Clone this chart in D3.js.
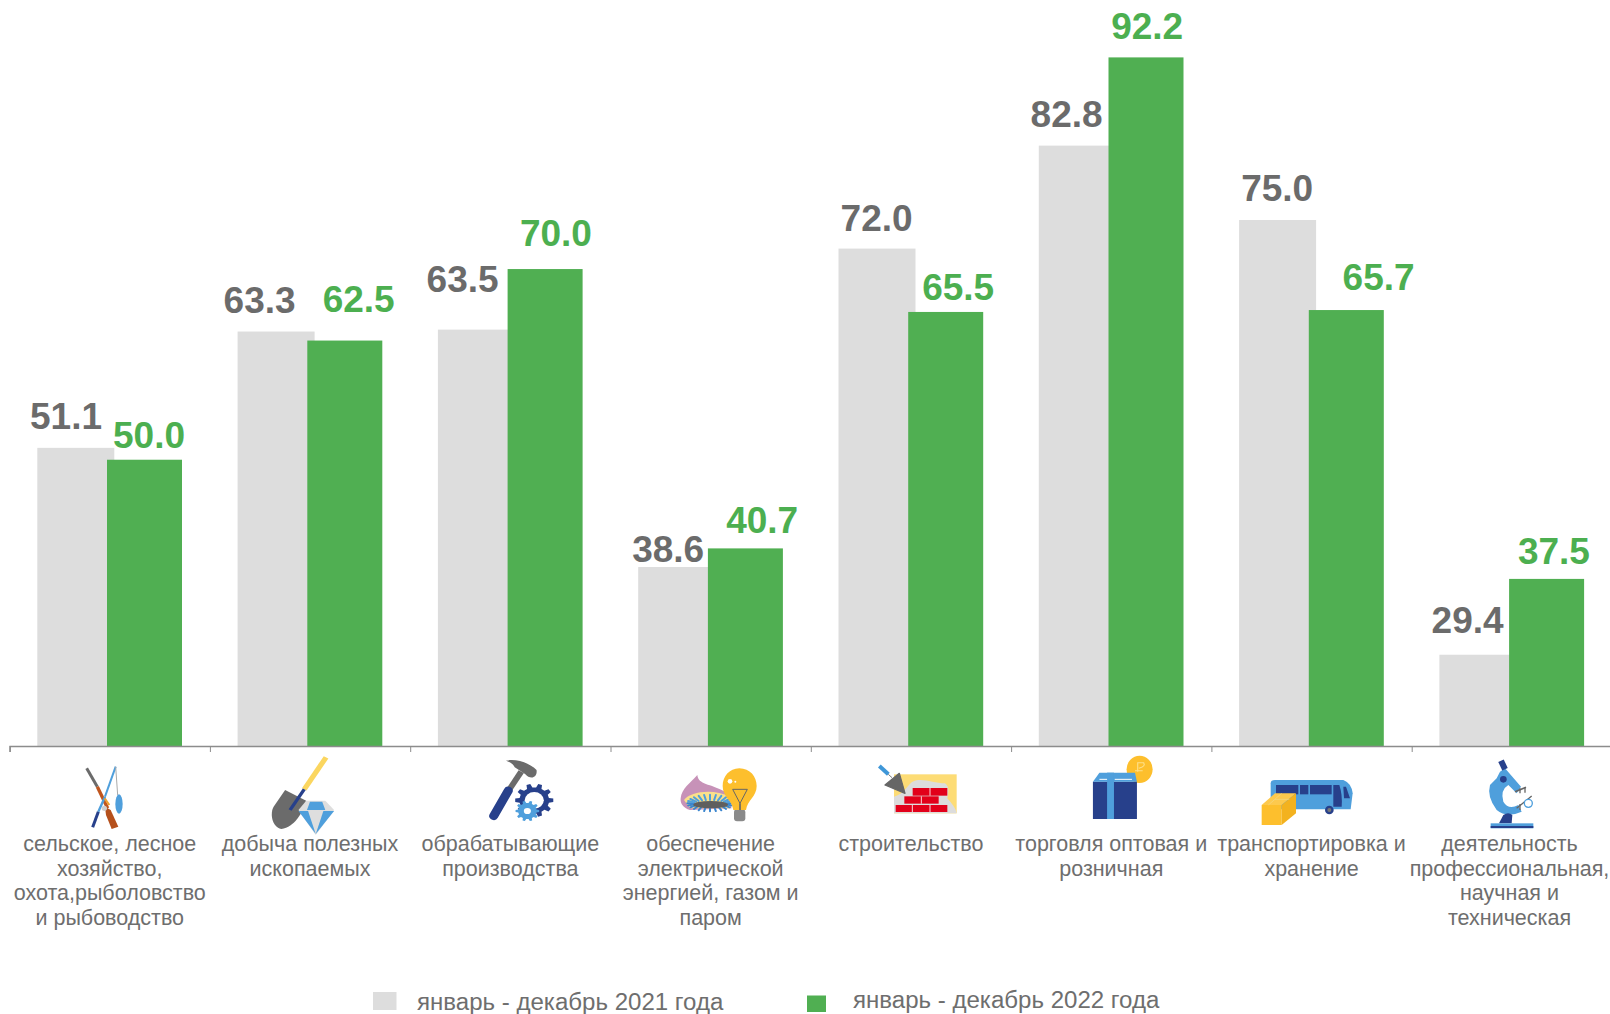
<!DOCTYPE html>
<html lang="ru"><head><meta charset="utf-8">
<script src="https://cdnjs.cloudflare.com/ajax/libs/d3/7.8.5/d3.min.js"></script>
<style>html,body{margin:0;background:#fff}svg{display:block}text{font-family:"Liberation Sans",Arial,sans-serif}</style>
</head><body><svg id="c" width="1610" height="1014"></svg>
<script>
const categories=[
 ["сельское, лесное","хозяйство,","охота,рыболовство","и рыбоводство"],
 ["добыча полезных","ископаемых"],
 ["обрабатывающие","производства"],
 ["обеспечение","электрической","энергией, газом и","паром"],
 ["строительство"],
 ["торговля оптовая и","розничная"],
 ["транспортировка и","хранение"],
 ["деятельность","профессиональная,","научная и","техническая"]];
const values2021=[51.1,63.3,63.5,38.6,72.0,82.8,75.0,29.4];
const values2022=[50.0,62.5,70.0,40.7,65.5,92.2,65.7,37.5];
const seriesNames=["январь - декабрь 2021 года","январь - декабрь 2022 года"];
// label placement relative to the bar centre and bar top
const dx2021=[-9.8,-16.5,-13.8,-8.5,-0.4,-10.7,-0.4,-10.3];
const gap2021=[18.7,18.4,37.7,5,18,19,19,21.3];
const dx2022=[4.5,13.9,10.8,16.8,12.5,1.2,32.3,7.3];
const gap2022=[11.3,28.4,23,15,12.4,18.1,20.4,15.4];

const GREY="#dddddd",GREEN="#50af52",NAVY="#27408b",BLUE="#4f9fdc",AMBER="#fdbf2d",STEEL="#6b6b6b";
const svg=d3.select("#c");
const idx=d3.range(categories.length);
const left=9.6,step=200.3;
const x=d3.scaleBand().domain(idx).range([left,left+step*idx.length]).padding(0);
const y=d3.scaleLinear().domain([19.9,92.2]).range([746,56.7]);
const tickX=d3.scaleLinear().domain([0,8]).range([left,left+step*8]);

const series=[
 {name:seriesNames[0],vals:values2021,off:27.7,w:77,fill:GREY,text:"#6b6b6b",dx:dx2021,gap:gap2021,adj:-0.7},
 {name:seriesNames[1],vals:values2022,off:97.4,w:75,fill:GREEN,text:"#4caf50",dx:dx2022,gap:gap2022,adj:0.7}];

series.forEach(s=>{
 svg.append("g").selectAll("rect").data(idx).join("rect")
  .attr("x",i=>x(i)+s.off).attr("width",s.w)
  .attr("y",i=>y(s.vals[i])+s.adj).attr("height",i=>y.range()[0]-y(s.vals[i])-s.adj).attr("fill",s.fill);
});
series.forEach(s=>{
 svg.append("g").selectAll("text").data(idx).join("text")
  .attr("x",i=>x(i)+s.off+s.w/2+s.dx[i]).attr("y",i=>y(s.vals[i])+s.adj-s.gap[i])
  .attr("text-anchor","middle").attr("font-size",37).attr("font-weight",700).attr("fill",s.text)
  .text(i=>s.vals[i].toFixed(1));
});

const ax=svg.append("g").attr("transform","translate(0,746)")
 .call(d3.axisBottom(tickX).tickValues(d3.range(0,9)).tickSizeOuter(0).tickSize(6).tickFormat(""));
ax.select(".domain").attr("stroke","#8c8c8c").attr("stroke-width",1.5);
ax.selectAll(".tick line").attr("stroke","#8c8c8c");

const lab=svg.append("g").selectAll("text").data(idx).join("text")
 .attr("text-anchor","middle").attr("font-size",21.5).attr("fill","#6e6e6e");
lab.each(function(i){
 d3.select(this).selectAll("tspan").data(categories[i]).join("tspan")
  .attr("x",Math.min(x(i)+x.bandwidth()/2,1509.5)).attr("y",(d,k)=>851+k*24.6).text(d=>d);
});

// legend
[[373,992,23.5,18,417,1010],[807,995.5,19,16.5,853,1008]].forEach((p,k)=>{
 svg.append("rect").attr("x",p[0]).attr("y",p[1]).attr("width",p[2]).attr("height",p[3]).attr("fill",series[k].fill);
 svg.append("text").attr("x",p[4]).attr("y",p[5]).attr("font-size",24.05).attr("fill","#6e6e6e").text(series[k].name);
});

// pictograms (decorative)
function gear(g,cx,cy,r,n,fill,hole){
 const pts=[];
 d3.range(n).forEach(k=>{const a=k/n*2*Math.PI,d=Math.PI/n;
  [[-.55,r*.78],[-.3,r],[.3,r],[.55,r*.78]].forEach(t=>{const b=a+t[0]*d*1.1;pts.push([cx+t[1]*Math.cos(b),cy+t[1]*Math.sin(b)]);});});
 g.append("path").attr("d",d3.line()(pts)+"Z").attr("fill",fill);
 g.append("circle").attr("cx",cx).attr("cy",cy).attr("r",r*hole).attr("fill","#fff");
}
const P=(g,d,f)=>g.append("path").attr("d",d).attr("fill",f);
const L=(g,a,b,c,d,col,w)=>g.append("line").attr("x1",a).attr("y1",b).attr("x2",c).attr("y2",d).attr("stroke",col).attr("stroke-width",w);
const E=(g,cx,cy,rx,ry,f)=>g.append("ellipse").attr("cx",cx).attr("cy",cy).attr("rx",rx).attr("ry",ry).attr("fill",f);
const R=(g,a,b,w,h,f)=>g.append("rect").attr("x",a).attr("y",b).attr("width",w).attr("height",h).attr("fill",f);
const G=(ox,sx)=>svg.append("g").attr("transform",`translate(${ox},730) scale(${sx},${1/3})`);
const C=(ox,oy)=>svg.append("g").attr("transform",`translate(${ox},${oy}) scale(${1/3})`);

let g=C(70,755);
L(g,50,40,82,95,STEEL,9);L(g,82,95,113,160,"#c0561f",10);
P(g,"M105,155L122,165L145,215L125,222L108,180Z","#b5501c");
L(g,137,35,105,125,BLUE,6);L(g,105,125,85,170,BLUE,7);L(g,85,170,68,217,NAVY,9);
L(g,104,130,118,150,"#f0a030",6);E(g,103,160,8,8,"#cfcfcf");
L(g,137,35,143,120,"#aaa",3);E(g,147,147,11,29,BLUE);

g=G(0,1/2.613);
L(g,852,82,795,178,"#fbd65f",14);
P(g,"M745,180L800,212C790,250 770,290 735,297C710,290 705,250 715,230Z",STEEL);
L(g,795,178,758,240,NAVY,9);
P(g,"M780,240L800,212L850,212L873,240L825,315Z","#dedede");
P(g,"M810,215L842,215L850,240L802,240Z",BLUE);P(g,"M780,243L805,243L825,312Z",BLUE);P(g,"M845,243L873,243L825,312Z",BLUE);

g=G(0,1/2.613);
P(g,"M1322,92C1350,85 1385,100 1402,120C1405,145 1385,150 1372,132L1345,112C1340,100 1330,95 1322,92Z",STEEL);
L(g,1362,125,1330,180,STEEL,16);
g.append("line").attr("x1",1328).attr("y1",182).attr("x2",1290).attr("y2",258).attr("stroke",NAVY).attr("stroke-width",24).attr("stroke-linecap","round");
gear(g,1396,211,50,10,NAVY,.5);gear(g,1378,243,31,10,BLUE,.3);

g=C(670,760);
P(g,"M32,115C35,85 60,70 82,45C85,75 120,70 165,95L185,145L60,150C40,145 30,130 32,115Z","#c792b8");
P(g,"M42,120C60,95 130,85 180,110L180,145L60,145Z","#fbe08a");
d3.range(0,24).forEach(k=>{const a=k/24*2*Math.PI,c=Math.cos(a),s=Math.sin(a);
 L(g,120+48*c,130+10*s,120+68*c,130+(s<0?26:24)*s,s<0?"#4f9fdc":"#3b86cf",6).attr("stroke-linecap","round");});
E(g,122,134,52,11,"#5f5f5f");
g.append("rect").attr("x",192).attr("y",148).attr("width",34).attr("height",36).attr("rx",9).attr("fill","#8a8a8a");
P(g,"M208,25C240,25 260,50 260,78C260,110 232,120 228,150L190,150C186,120 158,110 158,78C158,50 178,25 208,25Z",AMBER);
P(g,"M188,88L232,88L210,130Z","none").attr("stroke","#666").attr("stroke-width",3);L(g,210,130,210,150,"#666",5);
E(g,180,64,7,7,"#fff");E(g,196,65,3,3,"#fff");

g=C(870,755);
R(g,72,58,188,117,"#fddc75");
P(g,"M72,175L72,125C100,118 110,95 125,82C150,65 190,85 225,85C240,95 235,115 232,130C245,145 258,160 260,175Z","#dcdcdc");
R(g,128,99,104,23,"#e2001a");R(g,103,124,103,22,"#e2001a");R(g,77,150,155,21,"#e2001a");
[[180,99,122],[154,124,146],[127,150,171],[180,150,171]].forEach(s=>L(g,s[0],s[1],s[0],s[2],"#fff",2.5));
L(g,28,33,55,58,"#3f97d8",12);L(g,55,58,66,68,"#777",3);
P(g,"M88,55L45,90L105,115Z","#666").attr("stroke","#666").attr("stroke-width",4).attr("stroke-linejoin","round");

g=G(600,1/2.613);
E(g,1410,118,34,41,AMBER);
P(g,"M1405,125L1405,98L1420,98Q1428,108 1408,115M1398,122L1418,122","none").attr("stroke","#fde08a").attr("stroke-width",3);
R(g,1288,155,115,112,NAVY);P(g,"M1305,128L1398,128L1403,155L1288,155Z",BLUE);
R(g,1325,128,18,139,BLUE);L(g,1305,148,1325,148,"#fff",3);L(g,1345,148,1390,148,"#fff",3);

g=G(1200,1/3);
P(g,"M212,160Q212,150 225,150L430,150Q455,160 458,190L452,238L212,238Z",BLUE);
R(g,228,165,67,28,NAVY);R(g,300,165,25,28,NAVY);R(g,330,165,65,28,NAVY);
P(g,"M400,165L418,165Q428,195 425,230L400,230Z",NAVY);P(g,"M430,170L438,170L450,205L432,205Z",NAVY);
E(g,388,240,13,13,NAVY);E(g,388,240,6,6,"#777");
P(g,"M185,225L225,190L288,190L245,225Z","#fdc94d");R(g,185,225,60,60,AMBER);P(g,"M245,225L288,190L288,250L245,285Z","#f3b21f");
L(g,205,225,245,190,"#f3d98a",2);L(g,225,208,268,208,"#f3d98a",2);

g=G(1200,1/3);
P(g,"M915,115L963,170L950,190L925,165Q900,180 910,215Q925,240 955,225L965,245Q920,265 890,240Q860,200 870,165L890,145L900,125Z",BLUE);
P(g,"M897,280L910,255Q925,245 937,255L935,280Z",NAVY);
R(g,872,280,128,15,BLUE);R(g,872,288,128,6,NAVY);
L(g,903,92,915,118,NAVY,18);E(g,910,148,10,10,NAVY);
L(g,945,185,978,172,"#666",5);L(g,960,190,960,175,"#666",4);L(g,975,188,975,172,"#666",4);
L(g,950,235,995,198,"#666",4);L(g,960,240,960,222,"#666",4);
g.append("circle").attr("cx",985).attr("cy",220).attr("r",12).attr("fill","#fff").attr("stroke",BLUE).attr("stroke-width",4);
</script></body></html>
